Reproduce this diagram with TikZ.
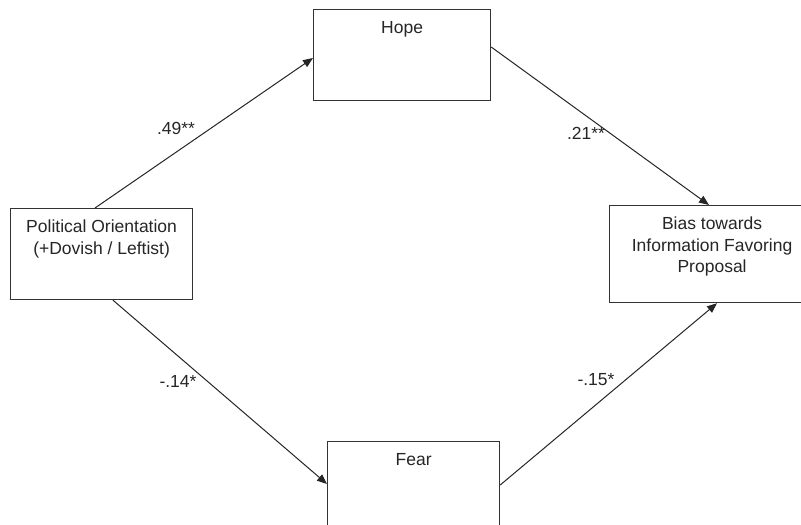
\documentclass[tikz,border=0pt]{standalone}
\usepackage{fontspec}
\setmainfont{Liberation Sans}
\usetikzlibrary{arrows.meta}
\begin{document}
\begin{tikzpicture}[x=1pt,y=-1pt,
  box/.style={draw=black!80,line width=1.2pt,rectangle,inner sep=0pt,anchor=north west},
  lbl/.style={font=\fontsize{17.5}{21.5}\selectfont,align=center,anchor=north,inner sep=0pt,text=black!85},
  coef/.style={font=\fontsize{17.5}{21}\selectfont,inner sep=0pt,text=black!85},
  arr/.style={draw=black!85,line width=1pt,-{Triangle[length=10pt,width=8pt]}}]
\useasboundingbox[fill=white] (0,0) rectangle (801,525);
\clip (0,0) rectangle (801,525);
\node[box,minimum width=177pt,minimum height=91pt] (hope) at (313,9) {};
\node[box,minimum width=182pt,minimum height=91pt] (pol) at (10,208) {};
\node[box,minimum width=205pt,minimum height=97pt] (bias) at (609,205) {};
\node[box,minimum width=172pt,minimum height=100pt] (fear) at (327,441) {};
\node[lbl] (hopet) at ([yshift=-12pt]hope.north) {Hope};
\node[lbl] (polt) at ([yshift=-12pt]pol.north) {Political Orientation\\(+Dovish / Leftist)};
\node[lbl] (biast) at ([yshift=-12pt]bias.north) {Bias towards\\Information Favoring\\Proposal};
\node[lbl] (feart) at ([yshift=-12pt]fear.north) {Fear};
\draw[arr] ([xshift=85pt]pol.north west) -- ([yshift=-49pt]hope.north west);
\draw[arr] ([yshift=-38pt]hope.north east) -- ([xshift=100pt]bias.north west);
\draw[arr] ([xshift=103pt]pol.south west) -- ([yshift=-43pt]fear.north west);
\draw[arr] ([yshift=-44pt]fear.north east) -- ([xshift=108pt]bias.south west);
\node[coef] (c1) at (176,128) {.49**};
\node[coef] (c2) at (586,133) {.21**};
\node[coef] (c3) at (178,381) {-.14*};
\node[coef] (c4) at (596,380) {-.15*};
\end{tikzpicture}
\end{document}
